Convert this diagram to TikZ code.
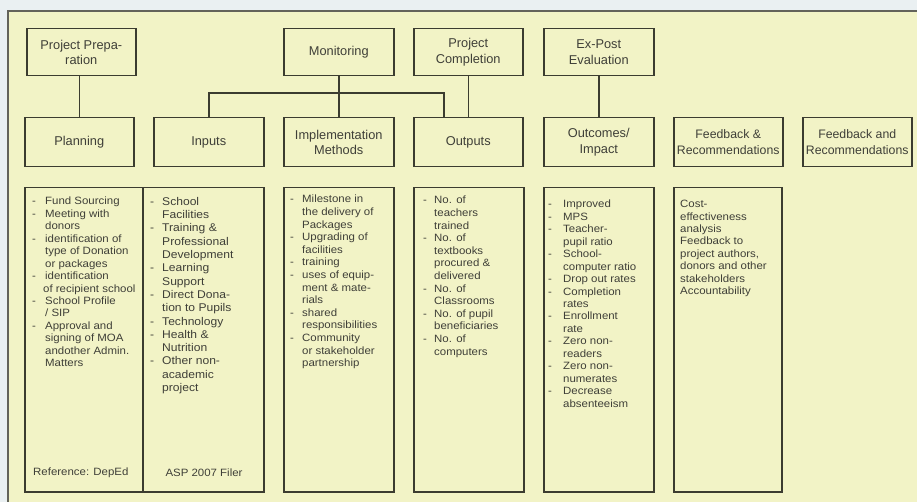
\documentclass[tikz,border=0pt]{standalone}
\usepackage{fontspec}
\setmainfont{Liberation Sans}
\newfontfamily\detf[FakeStretch=1.08]{Liberation Sans}
\definecolor{bgout}{HTML}{EAF0F2}
\definecolor{bgin}{HTML}{F2F3C6}
\definecolor{ln}{HTML}{3C3C30}
\definecolor{tx}{HTML}{3F3F38}
\newcommand\dsh[1][12pt]{\makebox[#1][l]{-}}
\newcommand\indt[1][12pt]{\hspace*{#1}}
\begin{document}
\begin{tikzpicture}[x=1pt,y=-1pt,
  hbox/.style={draw=ln,line width=1.5pt,minimum width=110pt,minimum height=48pt,
    anchor=north west,inner sep=0pt,align=center,text=tx,
    font=\fontsize{12.8}{15.5}\selectfont},
  dbox/.style={draw=ln,line width=1.5pt,minimum height=304pt,anchor=north west,inner sep=0pt},
  dtext/.style={anchor=north west,inner sep=0pt,align=left,text=tx,
    font=\detf\fontsize{10.6}{12.45}\selectfont},
  conn/.style={draw=ln,line width=1.5pt}]
\useasboundingbox (0,0) rectangle (917,502);
\fill[bgout] (0,0) rectangle (917,502);
\fill[bgin] (8,11) rectangle (917,502);
\draw[ln!80,line width=2.6pt] (8,502) -- (8,11) -- (917,11);

% top row
\node[hbox,minimum width=109pt,minimum height=47pt] (pp) at (26,28) {Project Prepa-\\ration};
\node[hbox,minimum height=47pt] (mon) at (283,28) {Monitoring};
\node[hbox,minimum width=109pt,minimum height=47pt] (pc) at (413,28) {Project\\Completion};
\node[hbox,minimum height=47pt] (ep) at (543,28) {Ex-Post\\Evaluation};

% second row
\node[hbox,minimum width=109pt,minimum height=49pt] (plan) at (24,117) {Planning};
\node[hbox,minimum height=49pt] (inp) at (153,117) {Inputs};
\node[hbox,minimum height=49pt] (impl) at (283,117) {Implementation\\Methods};
\node[hbox,minimum width=109pt,minimum height=49pt] (outp) at (413,117) {Outputs};
\node[hbox,minimum height=49pt] (outc) at (543,117) {Outcomes/\\Impact};
\node[hbox,minimum width=109pt,minimum height=49pt,font=\fontsize{12.3}{15.5}\selectfont] (fb1) at (673,117) {Feedback \&\\Recommendations};
\node[hbox,minimum width=109pt,minimum height=49pt,font=\fontsize{12.3}{15.5}\selectfont] (fb2) at (802,117) {Feedback and\\Recommendations};

% connectors
\draw[conn] (plan.north) -- (plan.north |- pp.south);
\draw[conn] (mon.south) -- (impl.north);
\coordinate (barR) at (444,93);
\draw[conn] (inp.north) |- (barR) -- (barR |- outp.north);
\draw[conn] (pc.south) -- (outp.north);
\draw[conn] (ep.south) -- (outc.north);

% detail boxes
\node[dbox,minimum width=118pt] (dplan) at (24,187) {};
\node[dbox,minimum width=121pt] (dinp) at (142,187) {};
\node[dbox,minimum width=110pt] (dimpl) at (283,187) {};
\node[dbox,minimum width=110pt] (doutp) at (413,187) {};
\node[dbox,minimum width=110pt] (doutc) at (543,187) {};
\node[dbox,minimum width=108pt] (dfb) at (673,187) {};

% detail texts
\node[dtext] (tplan) at (32,197) {\dsh[13pt]Fund Sourcing\\
\dsh[13pt]Meeting with\\
\indt[13pt]donors\\
\dsh[13pt]identification of\\
\indt[13pt]type of Donation\\
\indt[13pt]or packages\\
\dsh[13pt]identification\\
\indt[11pt]of recipient school\\
\dsh[13pt]School Profile\\
\indt[13pt]/ SIP\\
\dsh[13pt]Approval and\\
\indt[13pt]signing of MOA\\
\indt[13pt]andother Admin.\\
\indt[13pt]Matters};
\node[dtext,anchor=west] (rplan) at (33,473) {Reference: DepEd};

\node[dtext,font=\detf\fontsize{11.2}{13.3}\selectfont] (tinp) at (150,197) {\dsh School\\
\indt Facilities\\
\dsh Training \&\\
\indt Professional\\
\indt Development\\
\dsh Learning\\
\indt Support\\
\dsh Direct Dona-\\
\indt tion to Pupils\\
\dsh Technology\\
\dsh Health \&\\
\indt Nutrition\\
\dsh Other non-\\
\indt academic\\
\indt project};
\node[dtext,anchor=center] (rinp) at (204,473) {ASP 2007 Filer};

\node[dtext,font=\detf\fontsize{10.6}{12.6}\selectfont] (timpl) at (290,195) {\dsh Milestone in\\
\indt the delivery of\\
\indt Packages\\
\dsh Upgrading of\\
\indt facilities\\
\dsh training\\
\dsh uses of equip-\\
\indt ment \& mate-\\
\indt rials\\
\dsh shared\\
\indt responsibilities\\
\dsh Community\\
\indt or stakeholder\\
\indt partnership};

\node[dtext,font=\detf\fontsize{10.6}{12.6}\selectfont] (toutp) at (423,196) {\dsh[11pt]No. of\\
\indt[11pt]teachers\\
\indt[11pt]trained\\
\dsh[11pt]No. of\\
\indt[11pt]textbooks\\
\indt[11pt]procured \&\\
\indt[11pt]delivered\\
\dsh[11pt]No. of\\
\indt[11pt]Classrooms\\
\dsh[11pt]No. of pupil\\
\indt[11pt]beneficiaries\\
\dsh[11pt]No. of\\
\indt[11pt]computers};

\node[dtext] (toutc) at (548,200) {\dsh[15pt]Improved\\
\dsh[15pt]MPS\\
\dsh[15pt]Teacher-\\
\indt[15pt]pupil ratio\\
\dsh[15pt]School-\\
\indt[15pt]computer ratio\\
\dsh[15pt]Drop out rates\\
\dsh[15pt]Completion\\
\indt[15pt]rates\\
\dsh[15pt]Enrollment\\
\indt[15pt]rate\\
\dsh[15pt]Zero non-\\
\indt[15pt]readers\\
\dsh[15pt]Zero non-\\
\indt[15pt]numerates\\
\dsh[15pt]Decrease\\
\indt[15pt]absenteeism};

\node[dtext] (tfb) at (680,200) {Cost-\\
effectiveness\\
analysis\\
Feedback to\\
project authors,\\
donors and other\\
stakeholders\\
Accountability};
\end{tikzpicture}
\end{document}
